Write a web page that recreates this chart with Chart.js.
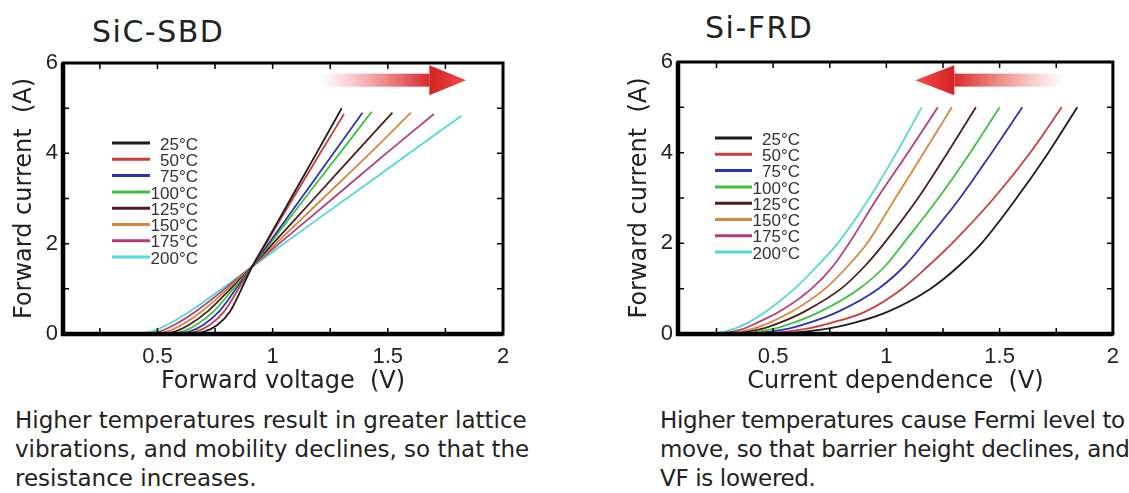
<!DOCTYPE html>
<html>
<head>
<meta charset="utf-8">
<script src="https://cdn.jsdelivr.net/npm/chart.js@4.4.1/dist/chart.umd.min.js"></script>
<style>
    html, body { margin: 0; padding: 0; background: #fff; }
    body {
        width: 1129px; height: 493px; position: relative; overflow: hidden;
        font-family: "DejaVu Sans", sans-serif; color: #222;
    }
    canvas { position: absolute; top: 0; }
    #sicChart { left: 0; }
    #frdChart { left: 560px; }
    .titulo { position: absolute; font-size: 30px; line-height: 30px; letter-spacing: 1.5px; white-space: nowrap; }
    .nota   { position: absolute; font-size: 23px; line-height: 29px; white-space: nowrap; }
</style>
</head>
<body>

<div class="titulo" style="left:92px; top:17px;">SiC-SBD</div>
<div class="titulo" style="left:705px; top:13px;">Si-FRD</div>

<canvas id="sicChart" width="560" height="400"></canvas>
<canvas id="frdChart" width="569" height="400"></canvas>

<div class="nota" style="left:15px; top:406px;">Higher temperatures result in greater lattice<br>vibrations, and mobility declines, so that the<br>resistance increases.</div>
<div class="nota" style="left:660px; top:406px; letter-spacing:-0.35px;">Higher temperatures cause Fermi level to<br>move, so that barrier height declines, and<br>VF is lowered.</div>

<script>
// ── Séries ──
const TEMPS = ['25°C', '50°C', '75°C', '100°C', '125°C', '150°C', '175°C', '200°C'];
const CORES = ['#1c1c1c', '#c83e3e', '#2c33b0', '#3cc23c', '#4e1e1e', '#d8863c', '#b23e7e', '#52d8d8'];

// ticks com rótulo e marcas internas
const X_TICKS  = [0.5, 1, 1.5, 2];
const Y_TICKS  = [0, 2, 4, 6];
const X_MARCAS = [0.25, 0.5, 0.75, 1, 1.25, 1.5, 1.75];
const Y_MARCAS = [1, 2, 3, 4, 5];

// SiC-SBD: corrente (A) comum, último ponto vem de SIC_TOPO
const SIC_X_MIN = 0.09;
const SIC_I     = [0, 0, 0.05, 0.2, 0.5, 1, 1.5, 2, 3, 4];
const SIC_TOPO  = [5.0, 4.87, 4.9, 4.92, 4.9, 4.9, 4.87, 4.83];
const SIC_V = [
    [0.09, 0.60,  0.70,  0.76,  0.815, 0.865, 0.912, 0.968, 1.079, 1.19,  1.30],
    [0.09, 0.57,  0.665, 0.727, 0.79,  0.852, 0.912, 0.971, 1.088, 1.206, 1.31],
    [0.09, 0.545, 0.635, 0.699, 0.768, 0.841, 0.912, 0.982, 1.123, 1.264, 1.39],
    [0.09, 0.52,  0.605, 0.668, 0.744, 0.829, 0.912, 0.988, 1.139, 1.291, 1.43],
    [0.09, 0.49,  0.572, 0.636, 0.718, 0.817, 0.912, 1.001, 1.18,  1.358, 1.52],
    [0.09, 0.46,  0.538, 0.604, 0.692, 0.805, 0.912, 1.014, 1.218, 1.422, 1.60],
    [0.09, 0.43,  0.504, 0.572, 0.666, 0.793, 0.912, 1.028, 1.261, 1.493, 1.70],
    [0.09, 0.40,  0.47,  0.54,  0.64,  0.78,  0.915, 1.048, 1.321, 1.593, 1.82],
];

// Si-FRD
const FRD_X_MIN = 0.08;
const FRD_I     = [0, 0, 0.1, 0.25, 0.5, 1, 1.5, 2, 3, 4, 5];
const FRD_V = [
    [0.08, 0.45, 0.72, 0.86,  1.01,  1.195, 1.32,  1.42,  1.575, 1.715, 1.843],
    [0.08, 0.40, 0.63, 0.76,  0.91,  1.07,  1.185, 1.29,  1.475, 1.635, 1.774],
    [0.08, 0.35, 0.55, 0.66,  0.79,  0.965, 1.08,  1.165, 1.325, 1.465, 1.60],
    [0.08, 0.32, 0.49, 0.59,  0.71,  0.88,  0.995, 1.075, 1.23,  1.37,  1.50],
    [0.08, 0.29, 0.44, 0.53,  0.64,  0.80,  0.905, 0.99,  1.14,  1.27,  1.395],
    [0.08, 0.26, 0.40, 0.485, 0.585, 0.73,  0.83,  0.915, 1.04,  1.165, 1.289],
    [0.08, 0.24, 0.36, 0.43,  0.53,  0.67,  0.765, 0.835, 0.96,  1.095, 1.227],
    [0.08, 0.22, 0.32, 0.39,  0.47,  0.595, 0.695, 0.785, 0.925, 1.045, 1.156],
];

// ── Plugins de desenho ──
const moldura = {
    id: 'moldura',
    afterDatasetsDraw(chart) {
        const { ctx, chartArea: a, scales: { x, y } } = chart;
        ctx.save();
        ctx.strokeStyle = '#000';
        ctx.lineWidth = 1.5;
        ctx.beginPath();
        X_MARCAS.forEach(v => {
            const px = x.getPixelForValue(v);
            ctx.moveTo(px, a.bottom); ctx.lineTo(px, a.bottom - 6);
            ctx.moveTo(px, a.top);    ctx.lineTo(px, a.top + 6);
        });
        Y_MARCAS.forEach(v => {
            const py = y.getPixelForValue(v);
            ctx.moveTo(a.left, py);  ctx.lineTo(a.left + 6, py);
            ctx.moveTo(a.right, py); ctx.lineTo(a.right - 6, py);
        });
        ctx.stroke();
        ctx.lineWidth = 3;
        ctx.strokeRect(a.left, a.top, a.width, a.height);
        ctx.lineWidth = 4.5;
        ctx.beginPath();
        ctx.moveTo(a.left, a.top);
        ctx.lineTo(a.left, a.bottom);
        ctx.lineTo(a.right, a.bottom);
        ctx.stroke();
        ctx.restore();
    }
};

const legenda = {
    id: 'legenda',
    afterDatasetsDraw(chart, args, o) {
        const { ctx, chartArea: a } = chart;
        ctx.save();
        ctx.font = '17px "Liberation Sans"';
        ctx.textAlign = 'right';
        ctx.textBaseline = 'middle';
        chart.data.datasets.forEach((ds, i) => {
            const yy = a.top + o.topo + i * o.passo;
            ctx.strokeStyle = ds.borderColor;
            ctx.lineWidth = 3;
            ctx.beginPath();
            ctx.moveTo(a.left + o.x1, yy);
            ctx.lineTo(a.left + o.x2, yy);
            ctx.stroke();
            ctx.fillStyle = '#333';
            ctx.fillText(ds.label, a.left + o.texto, yy + 2);
        });
        ctx.restore();
    }
};

const seta = {
    id: 'seta',
    beforeDatasetsDraw(chart, args, o) {
        const { ctx, scales: { x, y } } = chart;
        const xCauda = x.getPixelForValue(o.cauda);
        const xBase  = x.getPixelForValue(o.base);
        const xPonta = x.getPixelForValue(o.ponta);
        const yc     = y.getPixelForValue(o.nivel);
        ctx.save();
        const g = ctx.createLinearGradient(xCauda, 0, xBase, 0);
        g.addColorStop(0, 'rgba(235,70,70,0)');
        g.addColorStop(1, 'rgba(214,32,32,0.95)');
        ctx.fillStyle = g;
        ctx.fillRect(Math.min(xCauda, xBase), yc - 6.5, Math.abs(xBase - xCauda), 13);
        const gh = ctx.createLinearGradient(xBase, 0, xPonta, 0);
        gh.addColorStop(0, '#d42222');
        gh.addColorStop(1, '#f24a4a');
        ctx.fillStyle = gh;
        ctx.beginPath();
        ctx.moveTo(xBase, yc - 15);
        ctx.lineTo(xPonta, yc);
        ctx.lineTo(xBase, yc + 15);
        ctx.closePath();
        ctx.fill();
        ctx.restore();
    }
};

function montaSeries(tensoes, correntes, topo) {
    return tensoes.map((vs, i) => ({
        label: TEMPS[i],
        data: vs.map((v, k) => ({
            x: v,
            y: k < correntes.length ? correntes[k] : topo[i]
        })),
        borderColor: CORES[i],
        borderWidth: 1.8,
        pointRadius: 0,
        cubicInterpolationMode: 'monotone',
        fill: false,
    }));
}

function criaGrafico(id, cfg) {
    const fonteTick   = { family: 'Liberation Sans', size: 22 };
    const fonteTitulo = { family: 'DejaVu Sans', size: 24 };
    return new Chart(document.getElementById(id), {
        type: 'line',
        data: { datasets: cfg.datasets },
        options: {
            responsive: false,
            animation: false,
            layout: { padding: { left: 0, top: cfg.topo, right: cfg.direita, bottom: 0 } },
            plugins: {
                legend: { display: false },
                tooltip: { enabled: false },
                legenda: cfg.legenda,
                seta: cfg.seta,
            },
            scales: {
                x: {
                    type: 'linear',
                    min: cfg.xMin,
                    max: 2,
                    afterBuildTicks: s => { s.ticks = X_TICKS.map(v => ({ value: v })); },
                    afterFit: s => { s.height = 66; },
                    grid: { display: false, drawTicks: false },
                    border: { display: false },
                    ticks: { padding: 10, color: '#222', font: fonteTick, maxRotation: 0, autoSkip: false, callback: v => String(v) },
                    title: { display: true, text: cfg.tituloX, color: '#222', font: fonteTitulo, padding: { top: 0, bottom: 4 } }
                },
                y: {
                    min: 0,
                    max: 6,
                    afterBuildTicks: s => { s.ticks = Y_TICKS.map(v => ({ value: v })); },
                    afterFit: s => { s.width = cfg.larguraY; },
                    grid: { display: false, drawTicks: false },
                    border: { display: false },
                    ticks: { padding: 5, color: '#222', font: fonteTick, autoSkip: false, callback: v => String(v) },
                    title: { display: true, text: 'Forward current  (A)', color: '#222', font: fonteTitulo, padding: { top: cfg.padTituloY, bottom: 0 } }
                }
            }
        },
        plugins: [seta, moldura, legenda]
    });
}

criaGrafico('sicChart', {
    datasets: montaSeries(SIC_V, SIC_I, SIC_TOPO),
    xMin: SIC_X_MIN,
    topo: 63, direita: 57, larguraY: 63, padTituloY: 10.6,
    tituloX: 'Forward voltage  (V)',
    legenda: { x1: 49, x2: 87, texto: 135, topo: 80, passo: 16.3 },
    seta: { cauda: 1.21, base: 1.68, ponta: 1.84, nivel: 5.62 },
});

criaGrafico('frdChart', {
    datasets: montaSeries(FRD_V, FRD_I, []),
    xMin: FRD_X_MIN,
    topo: 62, direita: 12, larguraY: 118, padTituloY: 65.6,
    tituloX: 'Current dependence  (V)',
    legenda: { x1: 37, x2: 74, texto: 122, topo: 76, passo: 16.3 },
    seta: { cauda: 1.78, base: 1.30, ponta: 1.128, nivel: 5.6 },
});
</script>
</body>
</html>
